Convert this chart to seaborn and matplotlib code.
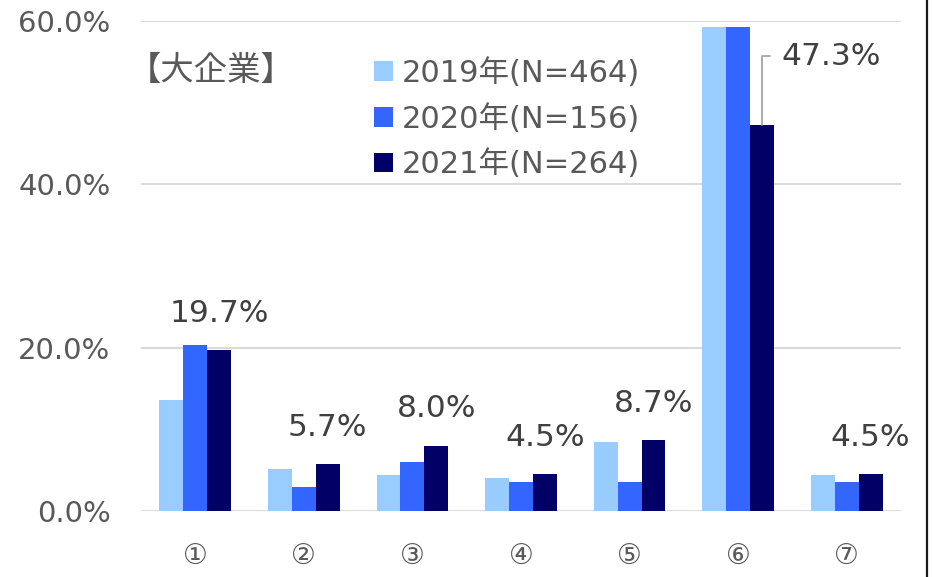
import pandas as pd
import matplotlib.pyplot as plt
import seaborn as sns
from matplotlib.lines import Line2D

# Données
categories = ['①', '②', '③', '④', '⑤', '⑥', '⑦']
series = ['2019年(N=464)', '2020年(N=156)', '2021年(N=264)']
v2019 = [13.6, 5.1, 4.4, 4.0, 8.4, 59.3, 4.4]
v2020 = [20.3, 2.9, 6.0, 3.6, 3.6, 59.3, 3.6]
v2021 = [19.7, 5.7, 8.0, 4.5, 8.7, 47.3, 4.5]
colors = ['#99CCFF', '#3366FF', '#000066']
yticks = [0, 20, 40, 60]

df = pd.DataFrame({
    'cat': categories * 3,
    'serie': [s for s in series for _ in categories],
    'val': v2019 + v2020 + v2021,
})

sns.set_theme(style='white')
plt.rcParams['font.family'] = ['DejaVu Sans', 'Noto Sans CJK JP']
gris = '#595959'

fig = plt.figure(figsize=(9.32, 5.77), dpi=100)
ax = fig.add_axes([141 / 932, 1 - 511 / 577, 760 / 932, 490 / 577])

sns.barplot(data=df, x='cat', y='val', hue='serie', palette=colors,
            width=0.66, gap=0, saturation=1, linewidth=0, ax=ax, legend=True)

ax.set_ylim(0, 60)
ax.set_yticks(yticks)
ax.set_yticklabels([f'{t:.1f}%' for t in yticks], fontsize=21, color=gris)
ax.tick_params(axis='y', length=0, pad=22)
ax.tick_params(axis='x', length=0, pad=22, labelsize=20, labelcolor=gris)
ax.set_xlabel('')
ax.set_ylabel('')
for s in ax.spines.values():
    s.set_visible(False)
ax.yaxis.grid(True, color='#D9D9D9', lw=1.4)
ax.set_axisbelow(True)

# Étiquettes de la série 2021 (sauf ⑥, avec ligne de rappel)
cont = ax.containers[2]
labels = [f'{v:.1f}%' if i != 5 else '' for i, v in enumerate(v2021)]
ax.bar_label(cont, labels=labels, padding=16, fontsize=22.5, color='#404040')

bar6 = cont[5]
x6 = bar6.get_x() + bar6.get_width() / 2
ax.annotate(f'{v2021[5]:.1f}%', xy=(x6, v2021[5]), xytext=(x6 + 0.18, 55.7),
            fontsize=22.5, color='#404040', ha='left', va='center',
            arrowprops=dict(arrowstyle='-', color='#A6A6A6', lw=1.3,
                            connectionstyle='angle,angleA=0,angleB=90,rad=0',
                            relpos=(0, 0.5), shrinkA=6, shrinkB=0))

# Légende
h, l = ax.get_legend_handles_labels()
ax.legend(h, l, loc='upper left', bbox_to_anchor=(374 / 932, 1 - 58 / 577),
          bbox_transform=fig.transFigure, frameon=False, fontsize=22,
          handlelength=0.62, handleheight=0.62, handletextpad=0.3,
          labelspacing=0.52, borderpad=0, borderaxespad=0, labelcolor=gris)

ax.text(-0.018, 0.9, '【大企業】', transform=ax.transAxes, fontsize=24,
        color=gris, ha='left', va='center')

# Bordure droite
fig.add_artist(Line2D([926.5 / 932] * 2, [0, 1], color='#1a1a1a', lw=1.6))

plt.savefig('out.png', dpi=100)
